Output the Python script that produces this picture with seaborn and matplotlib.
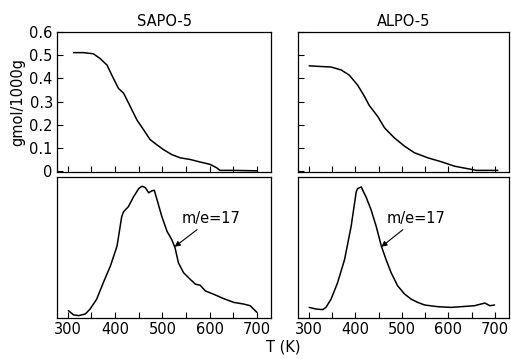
import matplotlib
matplotlib.use("Agg")
import matplotlib.pyplot as plt
import seaborn as sns
import pandas as pd

sns.set_style("ticks")
plt.rcParams['font.family'] = ['DejaVu Sans']
for k in ['text.color', 'axes.labelcolor', 'xtick.color', 'ytick.color', 'axes.edgecolor']:
    plt.rcParams[k] = 'black'

# ---- data ----
sapo_T_top = [312, 333, 354, 368, 383, 393, 407, 418, 432, 446, 460, 474, 488, 502, 520, 538, 559, 580, 601, 615, 622, 651, 700]
sapo_v_top = [0.511, 0.511, 0.506, 0.486, 0.457, 0.414, 0.357, 0.336, 0.279, 0.221, 0.179, 0.136, 0.114, 0.093, 0.071, 0.057, 0.050, 0.039, 0.029, 0.014, 0.003, 0.003, 0.001]

alpo_T_top = [301, 327, 348, 370, 387, 405, 420, 430, 448, 463, 484, 506, 527, 556, 585, 613, 642, 660, 706]
alpo_v_top = [0.454, 0.451, 0.449, 0.436, 0.414, 0.371, 0.321, 0.283, 0.236, 0.186, 0.143, 0.107, 0.079, 0.057, 0.040, 0.021, 0.010, 0.003, 0.003]

sapo_T_bot = [301, 312, 323, 337, 347, 361, 375, 390, 404, 414, 418, 428, 439, 450, 457, 464, 471, 478, 483, 488, 499, 510, 520, 527, 534, 545, 559, 570, 580, 591, 608, 629, 651, 672, 686, 700]
sapo_v_bot = [0.043, 0.012, 0.007, 0.019, 0.054, 0.125, 0.243, 0.362, 0.504, 0.716, 0.752, 0.787, 0.858, 0.917, 0.934, 0.924, 0.887, 0.901, 0.905, 0.846, 0.716, 0.610, 0.551, 0.492, 0.385, 0.314, 0.267, 0.232, 0.225, 0.184, 0.161, 0.130, 0.102, 0.090, 0.078, 0.031]

alpo_T_bot = [301, 316, 330, 337, 348, 362, 377, 391, 402, 405, 413, 416, 423, 434, 445, 456, 466, 477, 491, 506, 520, 534, 549, 577, 606, 635, 656, 678, 689, 699]
alpo_v_bot = [0.066, 0.054, 0.050, 0.066, 0.125, 0.243, 0.409, 0.645, 0.894, 0.917, 0.929, 0.905, 0.858, 0.764, 0.645, 0.504, 0.409, 0.314, 0.220, 0.161, 0.125, 0.102, 0.083, 0.071, 0.066, 0.073, 0.078, 0.097, 0.078, 0.083]

titles = ["SAPO-5", "ALPO-5"]
x_ticklabels = [300, 400, 500, 600, 700]
y_ticklabels = ["0", "0.1", "0.2", "0.3", "0.4", "0.5", "0.6"]
y_ticks = [0, 0.1, 0.2, 0.3, 0.4, 0.5, 0.6]
annot_text = "m/e=17"
sapo_arrow = (526, 0.50)
alpo_arrow = (456, 0.50)

fig = plt.figure(figsize=(5.11, 3.59), dpi=100)
W, H = 511, 359
def ax_at(x0, y0, x1, y1):
    return fig.add_axes([x0 / W, 1 - y1 / H, (x1 - x0) / W, (y1 - y0) / H])

ax_tl = ax_at(57, 32, 271, 172)
ax_tr = ax_at(298, 32, 509, 172)
ax_bl = ax_at(57, 177, 271, 318)
ax_br = ax_at(298, 177, 509, 318)

fs = 10.5
for ax in [ax_tl, ax_tr, ax_bl, ax_br]:
    ax.set_xlim(277, 730)
    ax.set_xticks(range(300, 701, 50))
    ax.tick_params(axis='both', direction='in', length=4, width=0.8, labelsize=fs, pad=3)
    for s in ax.spines.values():
        s.set_linewidth(0.9)
        s.set_visible(True)

def plot_line(ax, T, v):
    df = pd.DataFrame({"T": T, "v": v})
    sns.lineplot(data=df, x="T", y="v", ax=ax, color="black", lw=1.1)
    ax.set_xlabel("")
    ax.set_ylabel("")

plot_line(ax_tl, sapo_T_top, sapo_v_top)
plot_line(ax_tr, alpo_T_top, alpo_v_top)
plot_line(ax_bl, sapo_T_bot, sapo_v_bot)
plot_line(ax_br, alpo_T_bot, alpo_v_bot)

for ax in [ax_tl, ax_tr]:
    ax.set_ylim(-0.004, 0.6)
    ax.set_yticks(y_ticks)
    ax.set_xticklabels([])
ax_tl.set_yticklabels(y_ticklabels)
ax_tr.set_yticklabels([])

for ax in [ax_bl, ax_br]:
    ax.set_ylim(-0.01, 1.0)
    ax.set_yticks([])
    ax.set_xticklabels([str(t) if t in x_ticklabels else "" for t in range(300, 701, 50)])

ax_tl.set_title(titles[0], fontsize=fs, pad=4)
ax_tr.set_title(titles[1], fontsize=fs, pad=4)
ax_tl.set_ylabel("gmol/1000g", fontsize=fs, labelpad=3)
fig.text(283 / W, 1 - 347 / H, "T (K)", ha="center", va="center", fontsize=fs)

arrowprops = dict(arrowstyle="-|>", color="black", lw=0.8, mutation_scale=8, shrinkA=0, shrinkB=0)
ax_bl.annotate(annot_text, xy=sapo_arrow, xytext=(541, 0.70), fontsize=fs,
               ha="left", va="center", arrowprops=arrowprops)
ax_br.annotate(annot_text, xy=alpo_arrow, xytext=(468, 0.70), fontsize=fs,
               ha="left", va="center", arrowprops=arrowprops)

fig.savefig("out.png", dpi=100)
